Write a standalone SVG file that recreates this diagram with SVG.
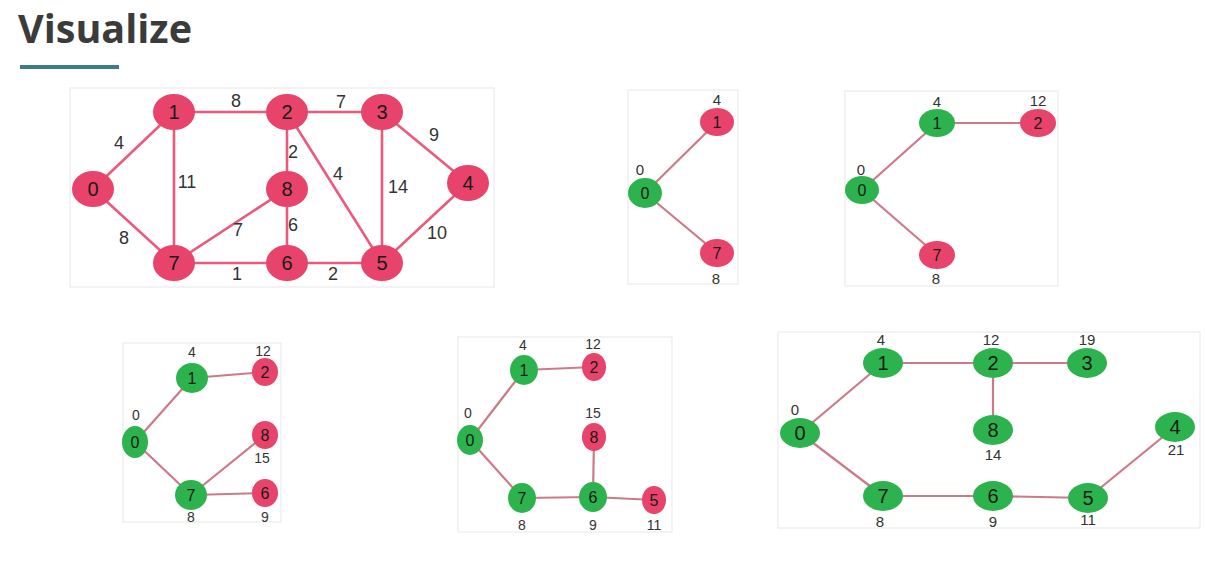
<svg xmlns="http://www.w3.org/2000/svg" width="1205" height="575" viewBox="0 0 1205 575">
<style>
.panel{fill:#ffffff;stroke:#efefef;stroke-width:1.5}
.e1{stroke:#ea5a7e;stroke-width:2.6;fill:none}
.e2{stroke:#cc7a88;stroke-width:2.2;fill:none}
.pk{fill:#e8436a}
.gr{fill:#2db34e}
.nt1{font-family:"Liberation Sans",Arial,sans-serif;font-size:20px;fill:#1a1a1a;text-anchor:middle}
.nt2{font-family:"Liberation Sans",Arial,sans-serif;font-size:16px;fill:#1a1a1a;text-anchor:middle}
.nt3{font-family:"Liberation Sans",Arial,sans-serif;font-size:20px;fill:#1a1a1a;text-anchor:middle}
.wl{font-family:"Liberation Sans",Arial,sans-serif;font-size:18px;fill:#333;text-anchor:middle}
.dl{font-family:"Liberation Sans",Arial,sans-serif;font-size:14px;fill:#333;text-anchor:middle}
.dl6{font-family:"Liberation Sans",Arial,sans-serif;font-size:15px;fill:#333;text-anchor:middle}
</style>
<rect width="1205" height="575" fill="#ffffff"/>
<g id="title">
<text x="18" y="43" font-family="'Open Sans','DejaVu Sans',sans-serif" font-weight="bold" font-size="39" fill="#3b3b3b" textLength="174" lengthAdjust="spacingAndGlyphs">Visualize</text>
<rect x="20" y="65" width="99" height="4" fill="#3d7b86"/>
</g>
<g id="panels">
<rect class="panel" x="70" y="88" width="424" height="199"/>
<rect class="panel" x="628" y="90" width="110" height="194"/>
<rect class="panel" x="845" y="91" width="213" height="195"/>
<rect class="panel" x="123" y="343" width="158" height="179"/>
<rect class="panel" x="458" y="337" width="214" height="195"/>
<rect class="panel" x="778" y="332" width="422" height="196"/>
</g>
<g id="connectors">
<line class="e1" x1="93" y1="189" x2="174" y2="112"/>
<line class="e1" x1="93" y1="189" x2="174" y2="263"/>
<line class="e1" x1="174" y1="112" x2="287" y2="112"/>
<line class="e1" x1="174" y1="112" x2="174" y2="263"/>
<line class="e1" x1="287" y1="112" x2="382" y2="112"/>
<line class="e1" x1="287" y1="112" x2="287" y2="189"/>
<line class="e1" x1="287" y1="112" x2="382" y2="263"/>
<line class="e1" x1="382" y1="112" x2="468" y2="183"/>
<line class="e1" x1="382" y1="112" x2="382" y2="263"/>
<line class="e1" x1="287" y1="189" x2="174" y2="263"/>
<line class="e1" x1="287" y1="189" x2="287" y2="263"/>
<line class="e1" x1="174" y1="263" x2="287" y2="263"/>
<line class="e1" x1="287" y1="263" x2="382" y2="263"/>
<line class="e1" x1="382" y1="263" x2="468" y2="183"/>
<line class="e2" x1="645" y1="193" x2="717" y2="122"/>
<line class="e2" x1="645" y1="193" x2="717" y2="253"/>
<line class="e2" x1="862" y1="190" x2="937" y2="123"/>
<line class="e2" x1="862" y1="190" x2="937" y2="255"/>
<line class="e2" x1="937" y1="123" x2="1038" y2="123"/>
<line class="e2" x1="135" y1="442" x2="192" y2="378"/>
<line class="e2" x1="135" y1="442" x2="191" y2="495"/>
<line class="e2" x1="192" y1="378" x2="265" y2="372"/>
<line class="e2" x1="191" y1="495" x2="265" y2="435"/>
<line class="e2" x1="191" y1="495" x2="265" y2="493"/>
<line class="e2" x1="470" y1="440" x2="524" y2="370"/>
<line class="e2" x1="470" y1="440" x2="522" y2="498"/>
<line class="e2" x1="524" y1="370" x2="594" y2="367"/>
<line class="e2" x1="594" y1="437" x2="593" y2="497"/>
<line class="e2" x1="522" y1="498" x2="593" y2="497"/>
<line class="e2" x1="593" y1="497" x2="654" y2="500"/>
<line class="e2" x1="800" y1="433" x2="883" y2="363"/>
<line class="e2" x1="800" y1="433" x2="883" y2="496"/>
<line class="e2" x1="883" y1="363" x2="993" y2="363"/>
<line class="e2" x1="993" y1="363" x2="1087" y2="363"/>
<line class="e2" x1="993" y1="363" x2="993" y2="430"/>
<line class="e2" x1="883" y1="496" x2="993" y2="496"/>
<line class="e2" x1="993" y1="496" x2="1088" y2="498"/>
<line class="e2" x1="1088" y1="498" x2="1175" y2="427"/>
</g>
<g id="weights">
<text class="wl" x="119" y="149">4</text>
<text class="wl" x="236" y="107">8</text>
<text class="wl" x="341" y="108">7</text>
<text class="wl" x="187" y="188">11</text>
<text class="wl" x="293" y="158">2</text>
<text class="wl" x="338" y="180">4</text>
<text class="wl" x="398" y="193">14</text>
<text class="wl" x="434" y="141">9</text>
<text class="wl" x="124" y="244">8</text>
<text class="wl" x="238" y="236">7</text>
<text class="wl" x="293" y="231">6</text>
<text class="wl" x="437" y="239">10</text>
<text class="wl" x="237" y="280">1</text>
<text class="wl" x="333" y="280">2</text>
</g>
<g id="p1-n0"><ellipse class="pk" cx="93" cy="189" rx="21" ry="18"/><text class="nt1" x="93" y="196">0</text></g>
<g id="p1-n1"><ellipse class="pk" cx="174" cy="112" rx="21" ry="18"/><text class="nt1" x="174" y="119">1</text></g>
<g id="p1-n2"><ellipse class="pk" cx="287" cy="112" rx="21" ry="18"/><text class="nt1" x="287" y="119">2</text></g>
<g id="p1-n3"><ellipse class="pk" cx="382" cy="112" rx="21" ry="18"/><text class="nt1" x="382" y="119">3</text></g>
<g id="p1-n4"><ellipse class="pk" cx="468" cy="183" rx="21" ry="18"/><text class="nt1" x="468" y="190">4</text></g>
<g id="p1-n5"><ellipse class="pk" cx="382" cy="263" rx="21" ry="18"/><text class="nt1" x="382" y="270">5</text></g>
<g id="p1-n6"><ellipse class="pk" cx="287" cy="263" rx="21" ry="18"/><text class="nt1" x="287" y="270">6</text></g>
<g id="p1-n7"><ellipse class="pk" cx="174" cy="263" rx="21" ry="18"/><text class="nt1" x="174" y="270">7</text></g>
<g id="p1-n8"><ellipse class="pk" cx="287" cy="189" rx="21" ry="18"/><text class="nt1" x="287" y="196">8</text></g>

<g id="p2-n0"><ellipse class="gr" cx="645" cy="193" rx="17" ry="15"/><text class="nt2" x="645" y="199">0</text><text class="dl6" x="640" y="175">0</text></g>
<g id="p2-n1"><ellipse class="pk" cx="717" cy="122" rx="17" ry="14"/><text class="nt2" x="717" y="128">1</text><text class="dl6" x="717" y="105">4</text></g>
<g id="p2-n7"><ellipse class="pk" cx="717" cy="253" rx="17" ry="14"/><text class="nt2" x="717" y="259">7</text><text class="dl6" x="716" y="284">8</text></g>

<g id="p3-n0"><ellipse class="gr" cx="862" cy="190" rx="17" ry="14"/><text class="nt2" x="862" y="196">0</text><text class="dl6" x="861" y="175">0</text></g>
<g id="p3-n1"><ellipse class="gr" cx="937" cy="123" rx="18" ry="14"/><text class="nt2" x="937" y="129">1</text><text class="dl6" x="937" y="107">4</text></g>
<g id="p3-n2"><ellipse class="pk" cx="1038" cy="123" rx="18" ry="14"/><text class="nt2" x="1038" y="129">2</text><text class="dl6" x="1038" y="106">12</text></g>
<g id="p3-n7"><ellipse class="pk" cx="937" cy="255" rx="18" ry="14"/><text class="nt2" x="937" y="261">7</text><text class="dl6" x="936" y="284">8</text></g>

<g id="p4-n0"><ellipse class="gr" cx="135" cy="442" rx="13" ry="16"/><text class="nt2" x="135" y="448">0</text><text class="dl" x="136" y="420">0</text></g>
<g id="p4-n1"><ellipse class="gr" cx="192" cy="378" rx="16" ry="15"/><text class="nt2" x="192" y="384">1</text><text class="dl" x="192" y="357">4</text></g>
<g id="p4-n2"><ellipse class="pk" cx="265" cy="372" rx="13" ry="14"/><text class="nt2" x="265" y="378">2</text><text class="dl" x="263" y="356">12</text></g>
<g id="p4-n8"><ellipse class="pk" cx="265" cy="435" rx="13" ry="14"/><text class="nt2" x="265" y="441">8</text><text class="dl" x="262" y="463">15</text></g>
<g id="p4-n7"><ellipse class="gr" cx="191" cy="495" rx="16" ry="15"/><text class="nt2" x="191" y="501">7</text><text class="dl" x="191" y="522">8</text></g>
<g id="p4-n6"><ellipse class="pk" cx="265" cy="493" rx="13" ry="14"/><text class="nt2" x="265" y="499">6</text><text class="dl" x="265" y="522">9</text></g>

<g id="p5-n0"><ellipse class="gr" cx="470" cy="440" rx="13" ry="15"/><text class="nt2" x="470" y="446">0</text><text class="dl" x="468" y="418">0</text></g>
<g id="p5-n1"><ellipse class="gr" cx="524" cy="370" rx="14" ry="15"/><text class="nt2" x="524" y="376">1</text><text class="dl" x="523" y="350">4</text></g>
<g id="p5-n2"><ellipse class="pk" cx="594" cy="367" rx="12" ry="14"/><text class="nt2" x="594" y="373">2</text><text class="dl" x="593" y="349">12</text></g>
<g id="p5-n8"><ellipse class="pk" cx="594" cy="437" rx="12" ry="14"/><text class="nt2" x="594" y="443">8</text><text class="dl" x="593" y="418">15</text></g>
<g id="p5-n7"><ellipse class="gr" cx="522" cy="498" rx="14" ry="15"/><text class="nt2" x="522" y="504">7</text><text class="dl" x="522" y="530">8</text></g>
<g id="p5-n6"><ellipse class="gr" cx="593" cy="497" rx="14" ry="15"/><text class="nt2" x="593" y="503">6</text><text class="dl" x="593" y="530">9</text></g>
<g id="p5-n5"><ellipse class="pk" cx="654" cy="500" rx="12" ry="14"/><text class="nt2" x="654" y="506">5</text><text class="dl" x="654" y="530">11</text></g>

<g id="p6-n0"><ellipse class="gr" cx="800" cy="433" rx="20" ry="15"/><text class="nt3" x="800" y="440">0</text><text class="dl6" x="795" y="415">0</text></g>
<g id="p6-n1"><ellipse class="gr" cx="883" cy="363" rx="20" ry="15"/><text class="nt3" x="883" y="370">1</text><text class="dl6" x="881" y="345">4</text></g>
<g id="p6-n2"><ellipse class="gr" cx="993" cy="363" rx="20" ry="15"/><text class="nt3" x="993" y="370">2</text><text class="dl6" x="991" y="345">12</text></g>
<g id="p6-n3"><ellipse class="gr" cx="1087" cy="363" rx="20" ry="15"/><text class="nt3" x="1087" y="370">3</text><text class="dl6" x="1087" y="345">19</text></g>
<g id="p6-n8"><ellipse class="gr" cx="993" cy="430" rx="20" ry="15"/><text class="nt3" x="993" y="437">8</text><text class="dl6" x="993" y="460">14</text></g>
<g id="p6-n4"><ellipse class="gr" cx="1175" cy="427" rx="20" ry="15"/><text class="nt3" x="1175" y="434">4</text><text class="dl6" x="1176" y="455">21</text></g>
<g id="p6-n7"><ellipse class="gr" cx="883" cy="496" rx="20" ry="15"/><text class="nt3" x="883" y="503">7</text><text class="dl6" x="880" y="527">8</text></g>
<g id="p6-n6"><ellipse class="gr" cx="993" cy="496" rx="20" ry="15"/><text class="nt3" x="993" y="503">6</text><text class="dl6" x="993" y="527">9</text></g>
<g id="p6-n5"><ellipse class="gr" cx="1088" cy="498" rx="20" ry="15"/><text class="nt3" x="1088" y="505">5</text><text class="dl6" x="1088" y="525">11</text></g>
</svg>
